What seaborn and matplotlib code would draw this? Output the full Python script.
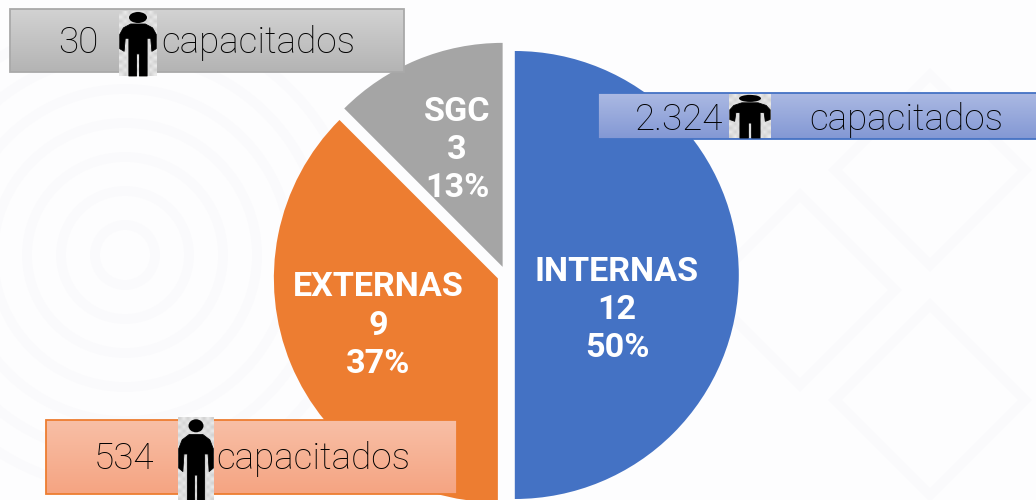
import numpy as np
import matplotlib
matplotlib.use("Agg")
import matplotlib.pyplot as plt
from matplotlib.patches import Polygon, Ellipse, Circle, Rectangle
import seaborn as sns

categories = ["INTERNAS", "EXTERNAS", "SGC"]
counts = [12, 9, 3]
percent_labels = ["50%", "37%", "13%"]
trained = ["2.324", "534", "30"]
unit = "capacitados"
colors = ["#4472C4", "#ED7D31", "#A5A5A5"]

sns.set_theme(style="white")
plt.rcParams["font.family"] = ["Roboto", "DejaVu Sans"]

W, H = 1036, 500
fig = plt.figure(figsize=(W / 100, H / 100), dpi=100, facecolor="#FDFDFE")
ax = fig.add_axes([0, 0, 1, 1])
ax.set_facecolor("#FDFDFE")


def Y(py):
    return H - py


# faint watermark
for r in range(30, 240, 34):
    ax.add_patch(Circle((125, Y(255)), r, fill=False, ec="#FAFAFC", lw=7, zorder=0))
for cx, cy in [(930, 170), (930, 400), (800, 290)]:
    ax.add_patch(Polygon([(cx - 95, Y(cy)), (cx, Y(cy - 95)), (cx + 95, Y(cy)), (cx, Y(cy + 95))],
                         closed=True, fill=False, ec="#FAFAFC", lw=7, zorder=0))

wedges, _ = ax.pie(
    counts, colors=colors, startangle=90, counterclock=False, radius=224,
    center=(506, Y(275)), explode=[8.8, 8.8, 8.8], frame=True,
    wedgeprops={"linewidth": 0},
)
for w in wedges:
    w.set_zorder(2)

label_pos = [(617, 272, 310, 348), (378, 287, 326, 364), (457, 112, 150, 188)]
for cat, n, pct, (x, y1, y2, y3) in zip(categories, counts, percent_labels, label_pos):
    for txt, y in zip((cat, str(n), pct), (y1, y2, y3)):
        ax.text(x, Y(y), txt, color="white", fontsize=24.6, fontweight="bold",
                ha="center", va="center", zorder=5)


def box(x0, y0, x1, y1, top, bottom, edge):
    grad = np.linspace(0, 1, 64)[:, None, None]
    t = np.array(matplotlib.colors.to_rgb(top))
    b = np.array(matplotlib.colors.to_rgb(bottom))
    img = t * (1 - grad) + b * grad
    ax.imshow(img, extent=(x0, x1, Y(y1), Y(y0)), origin="upper", aspect="auto", zorder=3)
    ax.add_patch(Rectangle((x0, Y(y1)), x1 - x0, y1 - y0, fill=False, ec=edge, lw=1.3, zorder=3.1))


BODY = [(.3, .2), (.7, .2), (.9, .26), (1, .36), (1, .58), (.88, .62), (.85, .42), (.75, .42),
        (.75, 1), (.54, 1), (.54, .66), (.46, .66), (.46, 1), (.25, 1), (.25, .42), (.15, .42),
        (.12, .62), (0, .58), (0, .36), (.1, .26)]


def person(x0, y0, x1, y1, hw, hh):
    w, h = x1 - x0, y1 - y0
    nx, ny = int(w / 4), int(h / 4)
    chk = (np.indices((ny, nx)).sum(axis=0) % 2) * 0.1 + 0.82
    ax.imshow(np.dstack([chk] * 3), extent=(x0, x1, Y(y1), Y(y0)), origin="upper",
              aspect="auto", zorder=4, interpolation="bilinear")
    px0 = x0 + 0.02 * w
    pw = 0.96 * w
    pts = [(px0 + u * pw, Y(y0 + v * h)) for u, v in BODY]
    ax.add_patch(Polygon(pts, closed=True, fc="black", ec="black", lw=.6, joinstyle="round", zorder=4.1))
    ax.add_patch(Ellipse(((x0 + x1) / 2, Y(y0 + 0.1 * h)), hw, hh, fc="black", ec="none", zorder=4.1))


TF = 26.6
TKW = dict(fontsize=TF, fontweight="light", color="#000000", va="center", zorder=5)

box(10, 9, 404, 72, "#D2D2D2", "#B4B4B4", "#A9A9A9")
ax.text(78, Y(43), trained[2], ha="center", **TKW)
person(119, 11, 157, 76, 18, 11)
ax.text(161, Y(43), unit, ha="left", **TKW)

box(598, 93, 1040, 139, "#ABB9E3", "#8398D4", "#4472C4")
ax.text(679, Y(120), trained[0], ha="center", **TKW)
person(729, 94, 771, 138, 22, 7)
ax.text(809, Y(120), unit, ha="left", **TKW)

box(46, 420, 457, 494, "#F8BFA6", "#F5A482", "#ED7D31")
ax.text(124, Y(459), trained[1], ha="center", **TKW)
person(178, 417, 214, 505, 15, 13)
ax.text(216, Y(459), unit, ha="left", **TKW)

ax.set_xlim(0, W)
ax.set_ylim(0, H)
ax.set_aspect("auto")
ax.set_xticks([])
ax.set_yticks([])
for s in ax.spines.values():
    s.set_visible(False)

fig.savefig("out.png", dpi=100, facecolor=fig.get_facecolor())
